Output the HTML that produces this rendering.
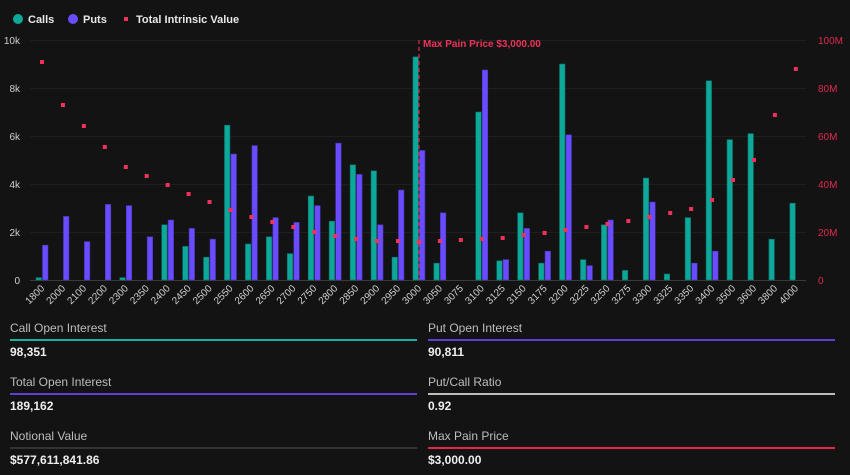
<!DOCTYPE html>
<html><head><meta charset="utf-8"><style>
html,body{margin:0;padding:0;background:#131313;width:850px;height:475px;overflow:hidden;font-family:"Liberation Sans",sans-serif}
.p{position:absolute;width:407px}
.l{font-size:12px;color:#bdbdbd;position:absolute;top:0;left:0}
.b{position:absolute;top:18px;left:0;width:407px;height:2px}
.v{font-size:12px;color:#eee;position:absolute;top:24px;left:0;font-weight:bold}
</style></head><body>
<svg id="s" width="850" height="310" style="position:absolute;left:0;top:0" font-family="Liberation Sans, sans-serif">
<circle cx="18" cy="19" r="5" fill="#0ea89a"/><text x="28" y="23" fill="#e8e8e8" font-size="11" font-weight="bold">Calls</text>
<circle cx="73" cy="19" r="5" fill="#6a4cff"/><text x="83" y="23" fill="#e8e8e8" font-size="11" font-weight="bold">Puts</text>
<rect x="124" y="17" width="4" height="4" fill="#f0325a"/><text x="136" y="23" fill="#e8e8e8" font-size="11" font-weight="bold">Total Intrinsic Value</text>
<g font-size="10" fill="#cfcfcf" text-anchor="end">
<text x="20" y="44">10k</text><text x="20" y="92">8k</text><text x="20" y="140">6k</text><text x="20" y="188">4k</text><text x="20" y="236">2k</text><text x="20" y="284">0</text>
</g>
<g font-size="10" fill="#e0284f">
<text x="818" y="44">100M</text><text x="818" y="92">80M</text><text x="818" y="140">60M</text><text x="818" y="188">40M</text><text x="818" y="236">20M</text><text x="818" y="284">0</text>
</g>
<g stroke="#1e1e1e" stroke-width="1">
<line x1="30" x2="806" y1="40.5" y2="40.5"/><line x1="30" x2="806" y1="88.5" y2="88.5"/><line x1="30" x2="806" y1="136.5" y2="136.5"/><line x1="30" x2="806" y1="184.5" y2="184.5"/><line x1="30" x2="806" y1="232.5" y2="232.5"/>
</g>
<line x1="30" x2="806" y1="280.5" y2="280.5" stroke="#3a3a3a"/>
<g id="g"></g>
<line x1="419" x2="419" y1="40" y2="280" stroke="#e0284f" stroke-dasharray="4,3" stroke-width="1.2"/>
<text x="423" y="47" fill="#f0325a" font-size="10" font-weight="bold">Max Pain Price $3,000.00</text>
</svg>
<div class="p" style="left:10px;top:321px"><div class="l">Call Open Interest</div><div class="b" style="background:#14b3a3"></div><div class="v">98,351</div></div>
<div class="p" style="left:428px;top:321px"><div class="l">Put Open Interest</div><div class="b" style="background:#5d3fd6"></div><div class="v">90,811</div></div>
<div class="p" style="left:10px;top:375px"><div class="l">Total Open Interest</div><div class="b" style="background:#5d3fd6"></div><div class="v">189,162</div></div>
<div class="p" style="left:428px;top:375px"><div class="l">Put/Call Ratio</div><div class="b" style="background:#bdbdbd"></div><div class="v">0.92</div></div>
<div class="p" style="left:10px;top:429px"><div class="l">Notional Value</div><div class="b" style="background:#333"></div><div class="v">$577,611,841.86</div></div>
<div class="p" style="left:428px;top:429px"><div class="l">Max Pain Price</div><div class="b" style="background:#e0284f"></div><div class="v">$3,000.00</div></div>
<script>
var d=[["1800",0.1,1.45,62],["2000",0,2.65,105],["2100",0,1.6,126],["2200",0,3.15,147],["2300",0.1,3.1,167],["2350",0,1.8,176],["2400",2.3,2.5,185],["2450",1.4,2.15,194],["2500",0.95,1.7,202],["2550",6.45,5.25,210],["2600",1.5,5.6,217],["2650",1.8,2.6,222],["2700",1.1,2.4,227],["2750",3.5,3.1,232],["2800",2.45,5.7,236],["2850",4.8,4.4,239],["2900",4.55,2.3,241],["2950",0.95,3.75,241],["3000",9.3,5.4,242],["3050",0.7,2.8,241],["3075",0,0,240],["3100",7.0,8.75,239],["3125",0.8,0.85,238],["3150",2.8,2.15,235],["3175",0.7,1.2,233],["3200",9.0,6.05,230],["3225",0.85,0.6,227],["3250",2.3,2.5,224],["3275",0.4,0,221],["3300",4.25,3.25,217],["3325",0.25,0,213],["3350",2.6,0.7,209],["3400",8.3,1.2,200],["3500",5.85,0,180],["3600",6.1,0,160],["3800",1.7,0,115],["4000",3.2,0,69]];
var h='';d.forEach(function(r,i){var c=42+20.94*i;
if(r[1]>0){var hh=r[1]*24;h+='<rect x="'+(c-6)+'" y="'+(280-hh)+'" width="5.5" height="'+hh+'" fill="#0ea89a" stroke="#0b6e66" stroke-width="0.6"/>';}
if(r[2]>0){var hh=r[2]*24;h+='<rect x="'+(c+0.5)+'" y="'+(280-hh)+'" width="5.5" height="'+hh+'" fill="#6a4cff" stroke="#4a34b0" stroke-width="0.6"/>';}
h+='<rect x="'+(c-2)+'" y="'+(r[3]-2)+'" width="4" height="4" fill="#f0325a"/>';
h+='<text transform="translate('+(c+3)+',289) rotate(-45)" text-anchor="end" font-size="10" fill="#cfcfcf">'+r[0]+'</text>';});
document.getElementById('g').innerHTML=h;
</script>
</body></html>
